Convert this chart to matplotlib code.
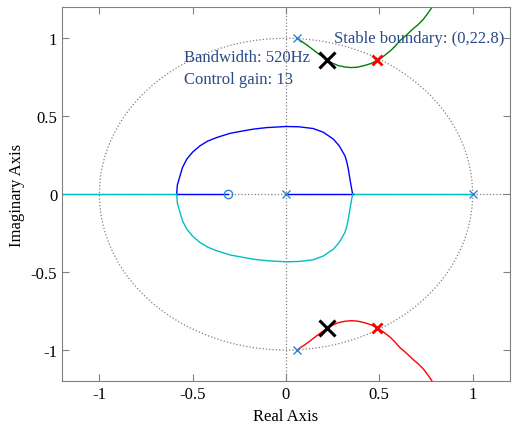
import numpy as np
import matplotlib
matplotlib.use('Agg')
import matplotlib.pyplot as plt

plt.rcParams['font.family'] = ['Liberation Serif', 'DejaVu Serif']
plt.rcParams['axes.unicode_minus'] = False

# Root locus branches (real, imag)
upper_re = [0.059, 0.09, 0.12, 0.15, 0.18, 0.22, 0.25, 0.28, 0.315, 0.35, 0.385, 0.42, 0.455,
            0.493, 0.525, 0.56, 0.585, 0.611, 0.645, 0.68, 0.71, 0.736, 0.76, 0.783, 0.80]
upper_im = [1.0, 0.975, 0.95, 0.922, 0.895, 0.86, 0.84, 0.825, 0.816, 0.812, 0.815, 0.825, 0.838,
            0.86, 0.887, 0.92, 0.95, 0.985, 1.02, 1.06, 1.09, 1.122, 1.16, 1.2, 1.22]

loop_re = [-0.586, -0.582, -0.568, -0.555, -0.532, -0.5, -0.461, -0.42, -0.372, -0.3, -0.229,
           -0.17, -0.103, 0.0, 0.07, 0.146, 0.2, 0.254, 0.285, 0.316, 0.327, 0.334, 0.345, 0.357]
loop_im = [0.0, 0.06, 0.117, 0.17, 0.224, 0.27, 0.31, 0.34, 0.363, 0.39, 0.406,
           0.418, 0.427, 0.434, 0.432, 0.421, 0.397, 0.353, 0.31, 0.246, 0.2, 0.16, 0.08, 0.0]

poles_re = [0.06, 0.06, 0.0, 1.0]
poles_im = [1.0, -1.0, 0.0, 0.0]
zero_re, zero_im = -0.31, 0.0
bw_re, bw_im = 0.22, 0.86      # bandwidth 520 Hz
gain_re, gain_im = 0.49, 0.86  # control gain 13

fig = plt.figure(figsize=(5.13, 4.27), dpi=100)
ax = fig.add_axes([0.121, 0.105, 0.873, 0.876])

# grid: unit circle + axes lines
t = np.linspace(0, 2 * np.pi, 400)
ax.plot(np.cos(t), np.sin(t), ls=':', color='#808080', lw=0.9)
ax.axhline(0, ls=':', color='#808080', lw=0.9)
ax.axvline(0, ls=':', color='#808080', lw=0.9)

# real axis segments
ax.plot([-1.2, loop_re[0]], [0, 0], color='#00bfbf', lw=1)
ax.plot([loop_re[-1], 1.0], [0, 0], color='#00bfbf', lw=1)
ax.plot([loop_re[0], zero_re], [0, 0], color='#0000ff', lw=1)
ax.plot([0, loop_re[-1]], [0, 0], color='#0000ff', lw=1)

# loop
ax.plot(loop_re, loop_im, color='#0000ff', lw=1)
ax.plot(loop_re, -np.array(loop_im), color='#00bfbf', lw=1)

# complex branches
ax.plot(upper_re, upper_im, color='#008000', lw=1)
ax.plot(upper_re, -np.array(upper_im), color='#ff0000', lw=1)

# poles and zero
ax.plot(poles_re, poles_im, 'x', color='#2f86d0', ms=6, mew=1)
ax.plot(zero_re, zero_im, 'o', mfc='none', mec='#2f86d0', ms=6, mew=1)

# selected gains
ax.plot([bw_re, bw_re], [bw_im, -bw_im], 'x', color='black', ms=11, mew=2.2)
ax.plot([gain_re, gain_re], [gain_im, -gain_im], 'x', color='red', ms=7, mew=2)

txt = '#2a4a86'
ax.text(0.257, 1.0, 'Stable boundary: (0,22.8)', color=txt, fontsize=12, va='center')
ax.text(-0.547, 0.88, 'Bandwidth: 520Hz', color=txt, fontsize=12, va='center')
ax.text(-0.547, 0.74, 'Control gain: 13', color=txt, fontsize=12, va='center')

ax.set_xlim(-1.2, 1.2)
ax.set_ylim(-1.2, 1.2)
ax.set_xticks([-1, -0.5, 0, 0.5, 1])
ax.set_xticklabels(['-1', '-0.5', '0', '0.5', '1'])
ax.set_yticks([-1, -0.5, 0, 0.5, 1])
ax.set_yticklabels(['-1', '-0.5', '0', '0.5', '1'])
ax.tick_params(direction='in', top=True, right=True, labelsize=12, color='#808080', length=5)
for s in ax.spines.values():
    s.set_color('#808080')
ax.set_xlabel('Real Axis', fontsize=12)
ax.set_ylabel('Imaginary Axis', fontsize=12)

fig.savefig('out.png', dpi=100)
